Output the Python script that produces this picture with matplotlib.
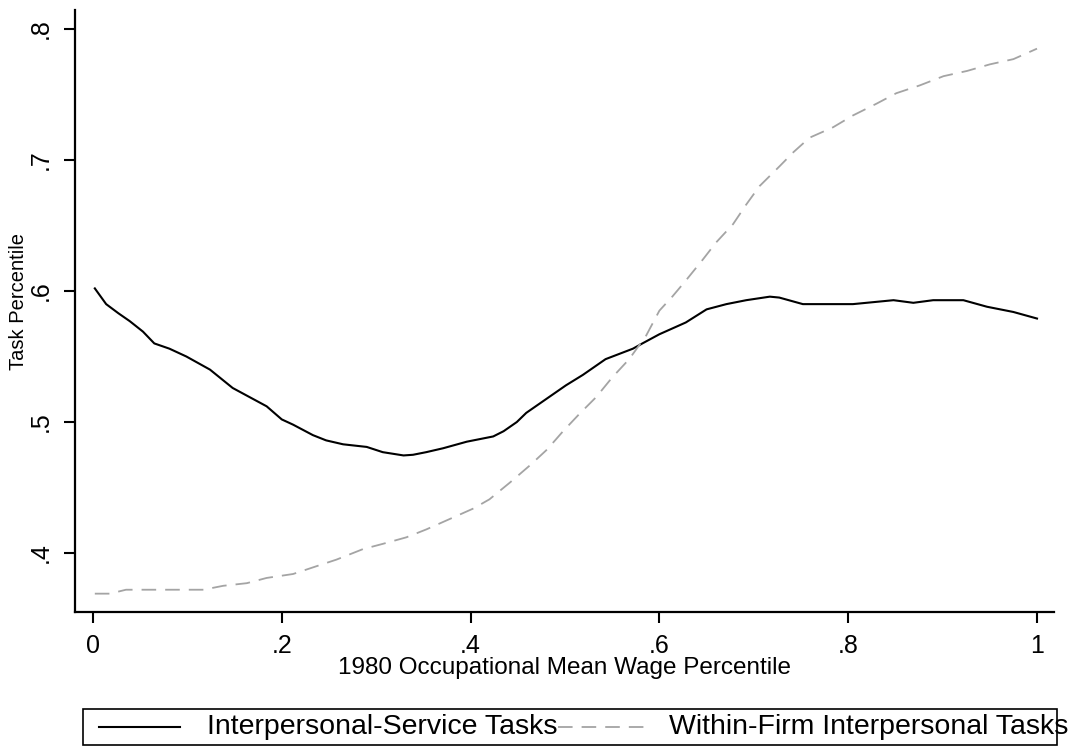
import matplotlib
matplotlib.use('Agg')
import matplotlib.pyplot as plt
from matplotlib.lines import Line2D
from matplotlib.patches import Rectangle

# smoothed task percentile by 1980 occupational wage percentile
wage_pct_service = [0.002, 0.014, 0.027, 0.039, 0.053, 0.065, 0.081, 0.099, 0.124, 0.148,
                    0.166, 0.184, 0.200, 0.212, 0.233, 0.247, 0.265, 0.290, 0.307, 0.329,
                    0.339, 0.353, 0.371, 0.396, 0.424, 0.435, 0.449, 0.459, 0.473, 0.501,
                    0.519, 0.543, 0.572, 0.582, 0.600, 0.628, 0.650, 0.671, 0.692, 0.717,
                    0.727, 0.752, 0.805, 0.848, 0.869, 0.890, 0.922, 0.947, 0.975, 1.000]
task_service = [0.602, 0.590, 0.583, 0.577, 0.569, 0.560, 0.556, 0.550, 0.540, 0.526,
                0.519, 0.512, 0.502, 0.498, 0.490, 0.486, 0.483, 0.481, 0.477, 0.4745,
                0.475, 0.477, 0.480, 0.485, 0.489, 0.493, 0.500, 0.507, 0.514, 0.528,
                0.536, 0.548, 0.556, 0.560, 0.567, 0.576, 0.586, 0.590, 0.593, 0.5957,
                0.595, 0.590, 0.590, 0.593, 0.591, 0.593, 0.593, 0.588, 0.584, 0.579]

wage_pct_firm = [0.002, 0.018, 0.035, 0.071, 0.117, 0.138, 0.163, 0.184, 0.212, 0.237,
                 0.258, 0.286, 0.307, 0.332, 0.353, 0.378, 0.403, 0.420, 0.442, 0.463,
                 0.481, 0.498, 0.515, 0.533, 0.550, 0.568, 0.586, 0.600, 0.614, 0.628,
                 0.646, 0.660, 0.678, 0.692, 0.706, 0.727, 0.742, 0.759, 0.784, 0.805,
                 0.830, 0.851, 0.876, 0.901, 0.926, 0.950, 0.975, 1.000]
task_firm = [0.369, 0.369, 0.372, 0.372, 0.372, 0.375, 0.377, 0.381, 0.384, 0.390,
             0.395, 0.403, 0.407, 0.412, 0.418, 0.426, 0.434, 0.441, 0.454, 0.467,
             0.479, 0.493, 0.506, 0.519, 0.534, 0.548, 0.566, 0.585, 0.596, 0.608,
             0.624, 0.637, 0.651, 0.666, 0.680, 0.695, 0.706, 0.717, 0.725, 0.734,
             0.743, 0.751, 0.757, 0.764, 0.768, 0.773, 0.777, 0.785]

series_labels = ['Interpersonal-Service Tasks', 'Within-Firm Interpersonal Tasks']
x_ticks = [0, 0.2, 0.4, 0.6, 0.8, 1.0]
x_tick_labels = ['0', '.2', '.4', '.6', '.8', '1']
y_ticks = [0.4, 0.5, 0.6, 0.7, 0.8]
y_tick_labels = ['.4', '.5', '.6', '.7', '.8']

plt.rcParams['font.family'] = ['Liberation Sans', 'DejaVu Sans']
plt.rcParams['lines.scale_dashes'] = False

W, H = 1076, 746
fig = plt.figure(figsize=(W / 100, H / 100), dpi=100)
ax = fig.add_axes([75 / W, 1 - 612 / H, (1054 - 75) / W, (612 - 10) / H])

solid_style = dict(color='black', lw=1.5, solid_joinstyle='round')
dash_style = dict(color='#a4a4a4', lw=1.3, dashes=(10.5, 6.5))
ax.plot(wage_pct_service, task_service, **solid_style)
ax.plot(wage_pct_firm, task_firm, **dash_style)

ax.set_xlim(-0.019, 1.018)
ax.set_ylim(0.355, 0.8145)
for side in ('top', 'right'):
    ax.spines[side].set_visible(False)
for side in ('left', 'bottom'):
    ax.spines[side].set_linewidth(1.6)

ax.set_xticks(x_ticks)
ax.set_xticklabels(x_tick_labels)
ax.set_yticks(y_ticks)
ax.set_yticklabels(y_tick_labels, rotation=90, va='center')
ax.tick_params(length=8, width=1.5, labelsize=18, pad=8)

ax.set_xlabel('1980 Occupational Mean Wage Percentile', fontsize=17.5)
ax.xaxis.set_label_coords((565 - 75) / (1054 - 75), (612 - 657) / 602)
ax.set_ylabel('Task Percentile', fontsize=14.5)
ax.yaxis.set_label_coords((28 - 75) / (1054 - 75), (612 - 301) / 602)

# legend drawn by hand: the box is narrower than its text
px = lambda x, y: (x / W, 1 - y / H)
fig.add_artist(Rectangle(px(83, 745), (1057 - 83) / W, (745 - 709) / H,
                         transform=fig.transFigure, fill=False, ec='black', lw=1.2))
ly = 727
fig.add_artist(Line2D([99 / W, 180 / W], [1 - ly / H] * 2, transform=fig.transFigure, **solid_style))
fig.text(*px(207, ly), series_labels[0], fontsize=20.5, va='center', ha='left')
fig.add_artist(Line2D([558 / W, 650 / W], [1 - ly / H] * 2, transform=fig.transFigure, **dash_style))
fig.text(*px(669, ly), series_labels[1], fontsize=20.5, va='center', ha='left')

fig.savefig('out.png', dpi=100)
